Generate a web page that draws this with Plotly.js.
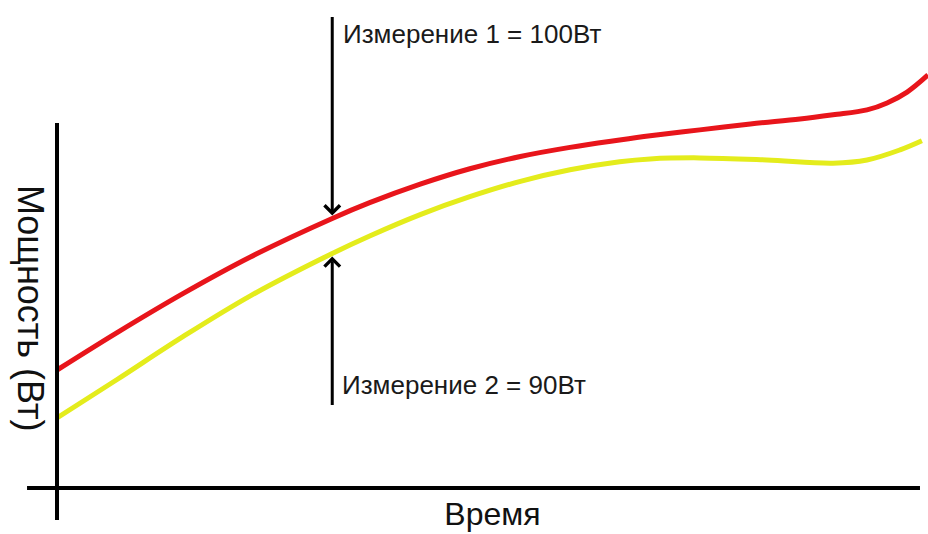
<!DOCTYPE html>
<html>
<head>
<meta charset="utf-8">
<script src="https://cdn.plot.ly/plotly-3.0.1.min.js"></script>
<style>html,body{margin:0;padding:0;background:#fff;}#chart{width:928px;height:534px;}</style>
</head>
<body>
<div id="chart"></div>
<script>
// Time (arbitrary units) and power (W) for each measurement curve
const timeRed = [0, 6.9, 14.5, 22.2, 31.6, 35.9, 41.7, 47.4, 53.2, 58.9, 64.6, 68.1, 73.8, 79.6, 85.3, 89.1, 93.0, 95.3, 97.6, 100];
const powerRed = [56.7, 67.4, 78.6, 89.0, 100, 104.5, 109.8, 114.2, 117.7, 120.3, 122.4, 123.6, 125.3, 127.0, 128.4, 129.6, 131.0, 133.0, 136.1, 141.0];
const timeYellow = [0, 6.9, 14.5, 22.2, 31.6, 35.9, 41.7, 47.4, 53.2, 58.9, 64.6, 68.1, 73.8, 81.5, 89.1, 93.0, 96.8, 99.3];
const powerYellow = [43.0, 54.0, 66.3, 77.9, 90, 95.0, 101.1, 106.2, 110.6, 113.9, 116.2, 117.0, 117.3, 116.7, 115.8, 116.7, 119.6, 122.2];

const measureTime = 31.6;
const measureValues = [100, 90];
const measureLabels = ['Измерение 1 = 100Вт', 'Измерение 2 = 90Вт'];
const xTitle = 'Время';
const yTitle = 'Мощность (Вт)';

const FONT = 'Liberation Sans, Arial, sans-serif';

const traces = [
  {x: timeYellow, y: powerYellow, mode: 'lines', line: {color: '#e4ec1c', width: 5, shape: 'spline', smoothing: 1}, hoverinfo: 'skip', cliponaxis: false},
  {x: timeRed, y: powerRed, mode: 'lines', line: {color: '#e8151b', width: 5, shape: 'spline', smoothing: 1}, hoverinfo: 'skip', cliponaxis: false}
];

const layout = {
  width: 928, height: 534,
  margin: {l: 57, r: 0, t: 0, b: 46},
  paper_bgcolor: '#ffffff', plot_bgcolor: '#ffffff',
  showlegend: false,
  font: {family: FONT, color: '#111111'},
  xaxis: {range: [0, 100], showgrid: false, zeroline: false, showticklabels: false, ticks: '', showline: false,
          title: {text: xTitle, font: {family: FONT, size: 32, color: '#111111'}, standoff: 14}, automargin: false},
  yaxis: {range: [23, 162.4], showgrid: false, zeroline: false, showticklabels: false, ticks: '', showline: false, automargin: false},
  shapes: [
    {type: 'line', xref: 'paper', yref: 'paper', x0: 0, x1: 0, y0: 0.748, y1: -0.0656, line: {color: '#000', width: 4}},
    {type: 'line', xref: 'paper', yref: 'paper', x0: -0.0344, x1: 0.9908, y0: 0, y1: 0, line: {color: '#000', width: 4}}
  ],
  annotations: [
    {x: measureTime, y: measureValues[0], xref: 'x', yref: 'y', showarrow: true, ax: 0, ay: -203, arrowhead: 4, arrowsize: 1, arrowwidth: 3, arrowcolor: '#000', standoff: 3, text: ''},
    {x: measureTime, y: measureValues[1], xref: 'x', yref: 'y', showarrow: true, ax: 0, ay: 153, arrowhead: 4, arrowsize: 1, arrowwidth: 3, arrowcolor: '#000', standoff: 3, text: ''},
    {x: measureTime, y: 0.93, xref: 'x', yref: 'paper', xanchor: 'left', yanchor: 'middle', xshift: 9, showarrow: false, text: measureLabels[0], font: {family: FONT, size: 26, color: '#1a1a1a'}},
    {x: measureTime, y: 0.211, xref: 'x', yref: 'paper', xanchor: 'left', yanchor: 'middle', xshift: 8, showarrow: false, text: measureLabels[1], font: {family: FONT, size: 26, color: '#1a1a1a'}},
    {x: -0.0310, y: 0.369, xref: 'paper', yref: 'paper', xanchor: 'center', yanchor: 'middle', textangle: 90, showarrow: false, text: yTitle, font: {family: FONT, size: 36, color: '#111111'}}
  ]
};

Plotly.newPlot('chart', traces, layout, {staticPlot: true, displayModeBar: false});
</script>
</body>
</html>
